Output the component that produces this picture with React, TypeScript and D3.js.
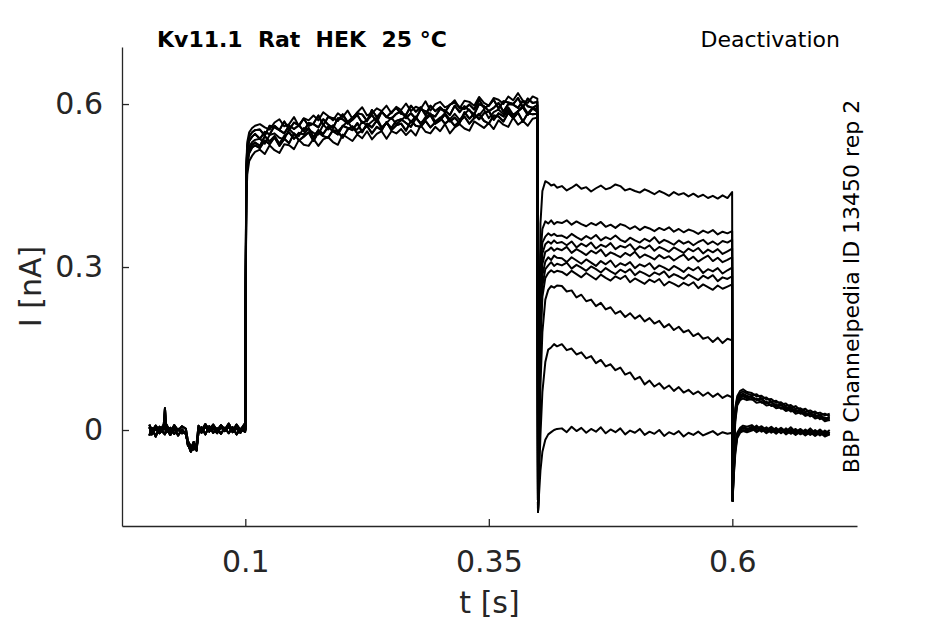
import React, { useEffect, useRef } from "react";
import * as d3 from "d3";

// sample times (s) for each protocol segment
const T_BASE = [0.0015, 0.004, 0.008, 0.012, 0.016, 0.0175, 0.019, 0.023, 0.027, 0.031, 0.035, 0.039, 0.041, 0.044, 0.047, 0.05, 0.052, 0.055, 0.059, 0.063, 0.067, 0.071, 0.075, 0.079, 0.083, 0.087, 0.091, 0.095, 0.0995];
const T_ACT = [0.1, 0.1003, 0.101, 0.102, 0.104, 0.107, 0.11, 0.115, 0.12, 0.125, 0.13, 0.135, 0.14, 0.145, 0.15, 0.155, 0.16, 0.165, 0.17, 0.175, 0.18, 0.185, 0.19, 0.195, 0.2, 0.205, 0.21, 0.215, 0.22, 0.225, 0.23, 0.235, 0.24, 0.245, 0.25, 0.255, 0.26, 0.265, 0.27, 0.275, 0.28, 0.285, 0.29, 0.295, 0.3, 0.305, 0.31, 0.315, 0.32, 0.325, 0.33, 0.335, 0.34, 0.345, 0.35, 0.355, 0.36, 0.365, 0.37, 0.375, 0.38, 0.385, 0.39, 0.395, 0.3998];
const T_TAIL = [0.4005, 0.4015, 0.403, 0.405, 0.408, 0.411, 0.414, 0.417, 0.42, 0.425, 0.43, 0.435, 0.44, 0.445, 0.45, 0.455, 0.46, 0.465, 0.47, 0.475, 0.48, 0.485, 0.49, 0.495, 0.5, 0.505, 0.51, 0.515, 0.52, 0.525, 0.53, 0.535, 0.54, 0.545, 0.55, 0.555, 0.56, 0.565, 0.57, 0.575, 0.58, 0.585, 0.59, 0.595, 0.5998];
const T_POST = [0.6003, 0.6013, 0.603, 0.605, 0.608, 0.611, 0.615, 0.62, 0.625, 0.63, 0.635, 0.64, 0.645, 0.65, 0.655, 0.66, 0.665, 0.67, 0.675, 0.68, 0.685, 0.69, 0.695, 0.7];

// currents in pA
const BASE_A = [5, -8, 3, -6, 2, 40, -4, 4, -7, 2, -6, -3, -28, -35, -22, -38, 3, -5, 6, -3, 4, -6, 5, -2, 6, -4, 3, -5, 8];
const BASE_B = [-10, 4, -12, 6, -5, -8, 2, -9, 3, -10, 1, -8, -25, -40, -30, -32, -4, 5, -8, 7, -5, 3, -7, 4, -6, 5, -8, 2, -3];
const BASE_C = [10, -3, 8, -2, 9, 1, 10, -4, 9, -1, 7, 2, -20, -30, -36, -25, 8, -2, 11, 0, 10, -1, 9, 1, 12, -2, 10, 0, 12];

const ACT_A = [0, 180, 420, 470, 495, 505, 512, 516, 508, 524, 515, 510, 526, 524, 517, 534, 525, 523, 536, 523, 535, 539, 530, 525, 544, 538, 532, 544, 537, 550, 535, 545, 550, 536, 550, 546, 554, 543, 552, 542, 561, 549, 546, 558, 550, 563, 546, 557, 563, 555, 551, 568, 562, 556, 565, 554, 570, 562, 558, 575, 562, 569, 560, 573, 575];
const ACT_B = [2, 200, 440, 490, 510, 520, 524, 519, 533, 526, 539, 523, 536, 528, 546, 533, 540, 548, 532, 548, 541, 538, 552, 549, 538, 553, 559, 546, 551, 560, 546, 558, 552, 567, 552, 561, 564, 551, 569, 560, 558, 569, 557, 566, 575, 564, 571, 560, 568, 577, 564, 574, 582, 569, 564, 579, 577, 568, 584, 574, 584, 568, 583, 581, 582];
const ACT_C = [-3, 210, 455, 505, 522, 530, 534, 536, 527, 543, 546, 538, 535, 554, 545, 541, 556, 553, 547, 544, 562, 553, 561, 550, 559, 568, 555, 553, 568, 560, 568, 575, 557, 565, 575, 563, 570, 578, 567, 577, 563, 576, 583, 568, 574, 583, 572, 582, 571, 582, 590, 575, 579, 590, 574, 585, 590, 581, 594, 580, 587, 597, 583, 593, 590];
const ACT_D = [4, 230, 470, 515, 532, 540, 545, 536, 549, 544, 560, 552, 546, 560, 554, 561, 550, 565, 563, 557, 572, 562, 556, 574, 572, 564, 571, 580, 565, 570, 580, 567, 586, 576, 573, 582, 587, 574, 583, 573, 590, 587, 581, 577, 591, 588, 580, 597, 585, 596, 588, 581, 600, 596, 587, 593, 602, 586, 600, 599, 593, 606, 596, 593, 598];
const ACT_E = [0, 250, 485, 530, 548, 556, 560, 563, 557, 553, 566, 572, 559, 563, 576, 559, 574, 570, 579, 570, 585, 578, 570, 583, 576, 588, 573, 585, 594, 579, 583, 592, 587, 597, 583, 595, 589, 601, 587, 595, 591, 605, 588, 600, 604, 594, 598, 607, 592, 606, 604, 597, 613, 602, 597, 611, 608, 600, 614, 607, 620, 606, 602, 614, 610];
const ACT_F = [1, 205, 448, 498, 516, 525, 529, 523, 541, 531, 541, 527, 541, 548, 536, 547, 544, 556, 539, 552, 545, 558, 550, 544, 560, 556, 552, 565, 548, 564, 557, 570, 556, 565, 556, 569, 572, 565, 558, 574, 565, 572, 580, 564, 570, 581, 568, 575, 565, 585, 573, 582, 572, 583, 587, 571, 583, 577, 589, 575, 587, 594, 580, 592, 586];
const ACT_G = [-2, 240, 478, 522, 540, 548, 552, 553, 542, 560, 557, 552, 568, 553, 566, 561, 573, 560, 564, 579, 561, 576, 574, 569, 581, 567, 575, 583, 581, 569, 589, 576, 586, 576, 585, 593, 582, 580, 597, 586, 594, 580, 597, 587, 594, 585, 599, 603, 594, 591, 599, 590, 608, 593, 597, 608, 592, 605, 603, 600, 611, 594, 610, 602, 604];

const TAIL_1 = [-150, 100, 380, 440, 458, 455, 450, 452, 446, 449, 441, 446, 452, 444, 447, 439, 445, 450, 443, 446, 452, 449, 441, 444, 440, 437, 443, 439, 434, 440, 436, 431, 438, 433, 436, 430, 435, 429, 433, 427, 431, 426, 432, 427, 438];
const TAIL_2 = [-150, 60, 320, 370, 384, 380, 386, 379, 383, 381, 386, 378, 384, 379, 375, 381, 377, 383, 374, 378, 372, 379, 376, 370, 375, 368, 374, 371, 366, 372, 368, 373, 365, 370, 364, 369, 366, 361, 367, 363, 368, 360, 365, 362, 366];
const TAIL_3 = [-150, 40, 290, 345, 356, 362, 358, 361, 357, 358, 353, 361, 355, 350, 357, 352, 359, 349, 355, 351, 358, 350, 346, 354, 349, 345, 352, 347, 355, 344, 350, 346, 341, 349, 343, 347, 340, 346, 350, 342, 347, 341, 348, 345, 350];
const TAIL_4 = [-150, 20, 260, 325, 342, 347, 343, 349, 344, 346, 340, 347, 336, 343, 338, 345, 334, 341, 337, 344, 333, 339, 336, 342, 331, 338, 334, 340, 330, 337, 333, 328, 336, 331, 326, 334, 329, 335, 325, 332, 327, 333, 324, 329, 334];
const TAIL_5 = [-150, 0, 230, 305, 328, 331, 336, 330, 334, 331, 337, 326, 333, 328, 322, 330, 325, 332, 320, 327, 323, 318, 326, 321, 328, 317, 323, 319, 314, 322, 316, 320, 312, 318, 323, 313, 319, 310, 316, 321, 311, 317, 309, 313, 318];
const TAIL_6 = [-150, -20, 200, 285, 310, 318, 313, 321, 317, 316, 309, 318, 312, 306, 314, 308, 302, 311, 305, 312, 300, 307, 303, 309, 298, 305, 301, 307, 296, 303, 299, 294, 302, 297, 291, 299, 294, 300, 289, 296, 292, 298, 288, 294, 299];
const TAIL_7 = [-150, -30, 180, 265, 296, 303, 309, 302, 306, 303, 308, 297, 304, 299, 293, 301, 296, 290, 298, 292, 287, 295, 290, 296, 285, 292, 288, 283, 290, 286, 292, 281, 287, 283, 278, 286, 281, 276, 284, 279, 285, 274, 281, 278, 283];
const TAIL_8 = [-150, -40, 160, 245, 280, 289, 294, 290, 293, 291, 285, 293, 287, 281, 289, 283, 277, 286, 280, 275, 283, 278, 284, 272, 279, 274, 269, 277, 272, 278, 266, 273, 269, 264, 271, 266, 272, 261, 268, 263, 258, 266, 260, 264, 268];
const TAIL_9 = [-150, -60, 80, 180, 240, 258, 265, 262, 266, 265, 255, 257, 244, 249, 237, 240, 228, 234, 222, 226, 214, 219, 208, 215, 205, 211, 200, 206, 196, 201, 189, 195, 184, 190, 180, 184, 173, 178, 168, 171, 162, 170, 160, 168, 165];
const TAIL_10 = [-150, -90, -10, 70, 125, 148, 152, 158, 154, 158, 147, 150, 139, 143, 132, 136, 123, 129, 117, 121, 110, 115, 102, 106, 93, 98, 84, 91, 80, 86, 76, 82, 72, 79, 69, 74, 66, 71, 63, 69, 61, 67, 59, 64, 60];
const TAIL_11 = [-150, -120, -75, -40, -18, -8, -4, 0, 2, 3, -4, 6, -2, 4, -5, 2, -3, 5, -6, 1, -4, 3, -8, -1, -5, 2, -9, -3, -7, 0, -11, -4, -8, -2, -12, -5, -9, -3, -10, -6, -2, -9, -4, -7, -5];

const POST_1 = [-130, -30, 40, 62, 72, 75, 70, 68, 62, 63, 56, 57, 50, 51, 44, 46, 39, 40, 34, 36, 30, 32, 27, 30];
const POST_2 = [-130, -35, 35, 58, 68, 71, 67, 64, 66, 58, 60, 52, 54, 47, 49, 41, 44, 36, 39, 31, 34, 27, 30, 25];
const POST_3 = [-130, -40, 30, 55, 64, 67, 63, 60, 56, 58, 50, 52, 45, 47, 40, 42, 35, 37, 30, 32, 25, 28, 21, 24];
const POST_4 = [-130, -45, 25, 52, 61, 65, 60, 62, 55, 56, 49, 51, 43, 46, 38, 41, 33, 36, 28, 31, 24, 27, 19, 22];
const POST_5 = [-130, -50, 20, 48, 58, 62, 58, 56, 58, 50, 52, 44, 47, 39, 42, 34, 37, 30, 32, 25, 28, 20, 23, 17];
const POST_6 = [-130, -55, 15, 45, 55, 58, 55, 57, 50, 52, 45, 47, 40, 42, 35, 38, 30, 33, 26, 29, 21, 24, 16, 19];
const POST_7 = [-130, -70, -25, -5, 4, 8, 6, 9, 2, 7, 0, 6, -2, 4, -3, 5, -4, 2, -5, 3, -6, 1, -7, 0];
const POST_8 = [-130, -75, -30, -8, 2, 5, 3, 1, 8, -1, 5, -3, 4, -5, 3, -4, 2, -6, 1, -7, 0, -8, -1, -6];
const POST_9 = [-130, -80, -35, -10, 0, 3, 1, 6, -2, 4, -4, 3, -5, 2, -6, 1, -7, 0, -8, -1, -9, -2, -10, -4];
const POST_10 = [-130, -85, -40, -12, -3, 0, -2, 3, -4, 2, -6, 0, -7, 1, -8, -2, -9, -3, -10, -4, -11, -5, -12, -8];
const POST_11 = [-130, -90, -45, -15, -5, -2, -4, -1, 4, -3, 2, -5, 1, -6, 0, -7, -1, -8, -2, -9, -3, -10, -4, -9];

const SWEEPS = [
  [BASE_A, ACT_E, TAIL_1, POST_1],
  [BASE_B, ACT_D, TAIL_2, POST_2],
  [BASE_C, ACT_G, TAIL_3, POST_3],
  [BASE_A, ACT_B, TAIL_4, POST_4],
  [BASE_B, ACT_A, TAIL_5, POST_5],
  [BASE_C, ACT_F, TAIL_6, POST_6],
  [BASE_A, ACT_C, TAIL_7, POST_7],
  [BASE_B, ACT_G, TAIL_8, POST_8],
  [BASE_C, ACT_B, TAIL_9, POST_9],
  [BASE_A, ACT_F, TAIL_10, POST_10],
  [BASE_B, ACT_D, TAIL_11, POST_11],
];

const X_TICKS = [0.1, 0.35, 0.6];
const Y_TICKS = [0, 0.3, 0.6];

const FONT = "'DejaVu Sans', sans-serif";
const AXIS_COLOR = "#262626";

export default function App() {
  const ref = useRef<SVGSVGElement | null>(null);

  useEffect(() => {
    const width = 945;
    const height = 624;
    const plot = { left: 122, right: 857, top: 47, bottom: 526 };

    const svg = d3.select(ref.current);
    svg.selectAll("*").remove();
    svg.attr("width", width).attr("height", height);

    const x = d3.scaleLinear().domain([-0.0266, 0.728]).range([plot.left, plot.right]);
    const y = d3.scaleLinear().domain([-0.1767, 0.705]).range([plot.bottom, plot.top]);

    const line = d3
      .line<[number, number]>()
      .x((d) => x(d[0]))
      .y((d) => y(d[1] / 1000));

    const segTimes = [T_BASE, T_ACT, T_TAIL, T_POST];
    const traces = SWEEPS.map((sweep) =>
      sweep.flatMap((vals, i) => d3.zip(segTimes[i], vals) as [number, number][])
    );

    svg
      .append("g")
      .selectAll("path")
      .data(traces)
      .enter()
      .append("path")
      .attr("fill", "none")
      .attr("stroke", "#000")
      .attr("stroke-width", 2)
      .attr("stroke-linejoin", "round")
      .attr("d", line);

    // axes
    const yAxis = svg
      .append("g")
      .attr("transform", `translate(${plot.left},0)`)
      .call(
        d3
          .axisLeft(y)
          .tickValues(Y_TICKS)
          .tickSizeInner(-7)
          .tickSizeOuter(0)
          .tickPadding(19)
          .tickFormat((d) => String(d)) as any
      );
    const xAxis = svg
      .append("g")
      .attr("transform", `translate(0,${plot.bottom})`)
      .call(
        d3
          .axisBottom(x)
          .tickValues(X_TICKS)
          .tickSizeInner(-7)
          .tickSizeOuter(0)
          .tickPadding(25)
          .tickFormat((d) => String(d)) as any
      );
    [yAxis, xAxis].forEach((g) => {
      g.attr("color", AXIS_COLOR).attr("font-family", FONT).attr("font-size", 30);
      g.selectAll("path, line").attr("stroke-width", 1.3);
      g.selectAll("text").attr("fill", AXIS_COLOR);
    });

    // labels
    svg
      .append("text")
      .attr("x", (plot.left + plot.right) / 2)
      .attr("y", 613)
      .attr("text-anchor", "middle")
      .attr("font-family", FONT)
      .attr("font-size", 30)
      .attr("fill", AXIS_COLOR)
      .text("t [s]");
    svg
      .append("text")
      .attr("transform", `translate(41,${(plot.top + plot.bottom) / 2}) rotate(-90)`)
      .attr("text-anchor", "middle")
      .attr("font-family", FONT)
      .attr("font-size", 30)
      .attr("fill", AXIS_COLOR)
      .text("I [nA]");

    svg
      .append("text")
      .attr("x", 157)
      .attr("y", 47)
      .attr("font-family", FONT)
      .attr("font-size", 22)
      .attr("font-weight", "bold")
      .attr("fill", "#000")
      .attr("xml:space", "preserve")
      .style("white-space", "pre")
      .text("Kv11.1  Rat  HEK  25 °C");
    svg
      .append("text")
      .attr("x", 840)
      .attr("y", 47)
      .attr("text-anchor", "end")
      .attr("font-family", FONT)
      .attr("font-size", 22)
      .attr("fill", "#000")
      .text("Deactivation");
    svg
      .append("text")
      .attr("transform", `translate(859,${(plot.top + plot.bottom) / 2}) rotate(-90)`)
      .attr("text-anchor", "middle")
      .attr("font-family", FONT)
      .attr("font-size", 22)
      .attr("fill", "#000")
      .text("BBP Channelpedia ID 13450 rep 2");
  }, []);

  return (
    <svg
      ref={ref}
      style={{ position: "absolute", left: 0, top: 0, background: "#fff", display: "block" }}
    />
  );
}
